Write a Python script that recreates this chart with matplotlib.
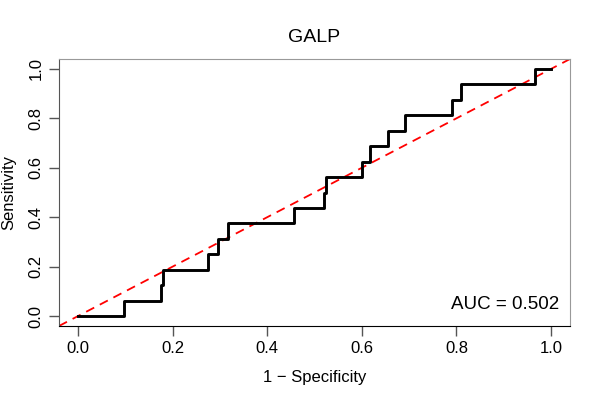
import matplotlib
matplotlib.use("Agg")
import matplotlib.pyplot as plt

plt.rcParams['font.family'] = ['Liberation Sans', 'DejaVu Sans']

# ROC corner points (1 - specificity, sensitivity)
fpr = [0.0, 0.098, 0.176, 0.180, 0.275, 0.297, 0.318, 0.456, 0.521, 0.525,
       0.600, 0.617, 0.655, 0.691, 0.791, 0.809, 0.966, 1.0]
tpr = [0.0, 0.0625, 0.125, 0.1875, 0.25, 0.3125, 0.375, 0.4375, 0.5, 0.5625,
       0.625, 0.6875, 0.75, 0.8125, 0.875, 0.9375, 1.0, 1.0]
auc = 0.502
ticks = [0.0, 0.2, 0.4, 0.6, 0.8, 1.0]

fig = plt.figure(figsize=(6, 4), dpi=100)
ax = fig.add_axes([0.0983, 0.185, 0.8517, 0.6675])

ax.plot([-0.04, 1.04], [-0.04, 1.04], color='red', lw=1.3, ls=(0, (5, 3.5)))
ax.plot(fpr, tpr, color='black', lw=2.1, drawstyle='steps-post')

ax.set_xlim(-0.04, 1.04)
ax.set_ylim(-0.04, 1.04)
ax.set_xticks(ticks)
ax.set_yticks(ticks)
ax.set_xticklabels(['{:.1f}'.format(t) for t in ticks], fontsize=12)
ax.set_yticklabels(['{:.1f}'.format(t) for t in ticks], fontsize=12,
                   rotation=90, va='center')
ax.tick_params(direction='out', length=7, width=1, color='#555555', pad=4)

for side in ['top', 'right']:
    ax.spines[side].set_color('#999999')
ax.spines['left'].set_color('#555555')
ax.spines['bottom'].set_color('black')

ax.set_xlabel('1 \u2212 Specificity', fontsize=12, labelpad=10)
ax.set_ylabel('Sensitivity', fontsize=12, labelpad=9)
ax.set_title('GALP', fontsize=14, pad=12)

ax.text(1.018, 0.045, 'AUC = {:.3f}'.format(auc), fontsize=13.5,
        ha='right', va='center')

fig.savefig('out.png', dpi=100)
